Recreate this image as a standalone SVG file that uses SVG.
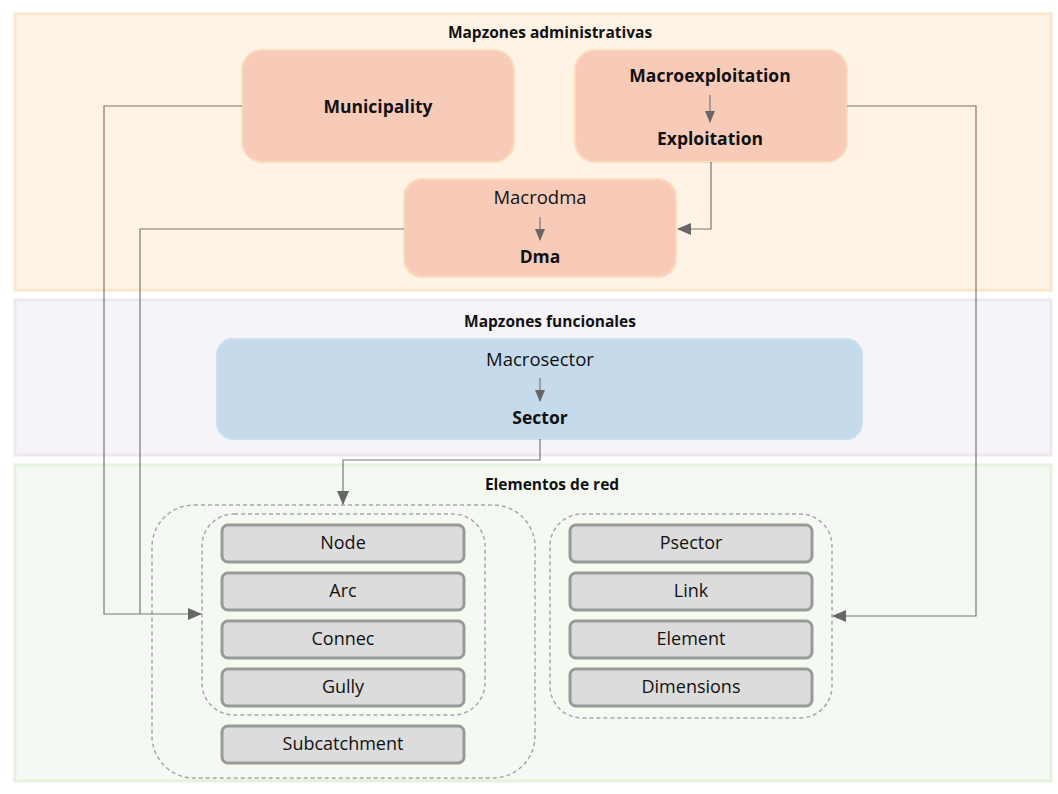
<svg xmlns="http://www.w3.org/2000/svg" width="1058" height="794" viewBox="0 0 1058 794">
<defs>
<marker id="ah" markerWidth="14" markerHeight="12" refX="13" refY="6" orient="auto" markerUnits="userSpaceOnUse">
<path d="M0,0 L14,6 L0,12 Z" fill="#666"/>
</marker>
<marker id="ahs" markerWidth="12" markerHeight="10" refX="11" refY="5" orient="auto" markerUnits="userSpaceOnUse">
<path d="M0,0 L12,5 L0,10 Z" fill="#666"/>
</marker>
</defs>
<style>
text{font-family:"Open Sans","Noto Sans","DejaVu Sans",sans-serif;fill:#111;text-anchor:middle}
.title{font-size:15.5px;font-weight:bold}
.b{font-size:17.5px;font-weight:bold}
.n{font-size:18.5px}
.item{fill:#dcdcdc;stroke:#999;stroke-width:3}
.it{font-size:18px}
.adm{fill:#f8cbb9;stroke:#fcdcbf;stroke-width:2}
.dash{fill:none;stroke:#a8a8a8;stroke-width:1.5;stroke-dasharray:4 3}
.conn{fill:none;stroke:#777;stroke-width:1.2}
.inner{stroke:#777;stroke-width:1.2}
</style>
<rect width="1058" height="794" fill="#fff"/>
<g id="panel-adm">
<rect x="15" y="14" width="1036" height="276" fill="#fff3e5" stroke="#fde6cc" stroke-width="3"/>
<text class="title" x="550" y="38">Mapzones administrativas</text>
</g>
<g id="panel-func">
<rect x="15" y="300" width="1036" height="155" fill="#f6f3f9" stroke="#ece7f1" stroke-width="3"/>
<text class="title" x="550" y="327">Mapzones funcionales</text>
</g>
<g id="panel-red">
<rect x="15" y="465" width="1036" height="316" fill="#f4faf2" stroke="#e3f3df" stroke-width="3"/>
<text class="title" x="552" y="490">Elementos de red</text>
</g>
<g id="municipality">
<rect class="adm" x="242" y="50" width="272" height="112" rx="20"/>
<text class="b" x="378" y="113">Municipality</text>
</g>
<g id="exploitation">
<rect class="adm" x="575" y="50" width="272" height="112" rx="20"/>
<text class="b" x="710" y="82">Macroexploitation</text>
<line class="inner" x1="710" y1="95" x2="710" y2="122" marker-end="url(#ahs)"/>
<text class="b" x="710" y="145">Exploitation</text>
</g>
<g id="dma">
<rect class="adm" x="404" y="179" width="272" height="98" rx="18"/>
<text class="n" x="540" y="204">Macrodma</text>
<line class="inner" x1="540" y1="217" x2="540" y2="240" marker-end="url(#ahs)"/>
<text class="b" x="540" y="263">Dma</text>
</g>
<g id="sector">
<rect x="217" y="339" width="645" height="100" rx="16" fill="#c5daea" stroke="#cadff0" stroke-width="2"/>
<text class="n" x="540" y="366">Macrosector</text>
<line class="inner" x1="540" y1="378" x2="540" y2="401" marker-end="url(#ahs)"/>
<text class="b" x="540" y="424">Sector</text>
</g>
<g id="group-left">
<rect class="dash" x="152" y="505" width="383" height="273" rx="42"/>
<rect class="dash" x="202" y="514" width="283" height="201" rx="32"/>
</g>
<g id="group-right">
<rect class="dash" x="550" y="514" width="282" height="204" rx="32"/>
</g>
<g id="node-node"><rect class="item" x="222" y="525" width="242" height="37" rx="6"/><text class="it" x="343" y="549">Node</text></g>
<g id="node-arc"><rect class="item" x="222" y="573" width="242" height="37" rx="6"/><text class="it" x="343" y="597">Arc</text></g>
<g id="node-connec"><rect class="item" x="222" y="621" width="242" height="37" rx="6"/><text class="it" x="343" y="645">Connec</text></g>
<g id="node-gully"><rect class="item" x="222" y="669" width="242" height="37" rx="6"/><text class="it" x="343" y="693">Gully</text></g>
<g id="node-subcatchment"><rect class="item" x="222" y="726" width="242" height="37" rx="6"/><text class="it" x="343" y="750">Subcatchment</text></g>
<g id="node-psector"><rect class="item" x="570" y="525" width="242" height="37" rx="6"/><text class="it" x="691" y="549">Psector</text></g>
<g id="node-link"><rect class="item" x="570" y="573" width="242" height="37" rx="6"/><text class="it" x="691" y="597">Link</text></g>
<g id="node-element"><rect class="item" x="570" y="621" width="242" height="37" rx="6"/><text class="it" x="691" y="645">Element</text></g>
<g id="node-dimensions"><rect class="item" x="570" y="669" width="242" height="37" rx="6"/><text class="it" x="691" y="693">Dimensions</text></g>
<g id="connectors">
<polyline class="conn" points="242,106 104,106 104,614 201,614" marker-end="url(#ah)"/>
<polyline class="conn" points="404,229 140,229 140,614"/>
<polyline class="conn" points="711,162 711,229 678,229" marker-end="url(#ah)"/>
<polyline class="conn" points="847,106 976,106 976,616 833,616" marker-end="url(#ah)"/>
<polyline class="conn" points="540,439 540,460 343,460 343,504" marker-end="url(#ah)"/>
</g>
</svg>
